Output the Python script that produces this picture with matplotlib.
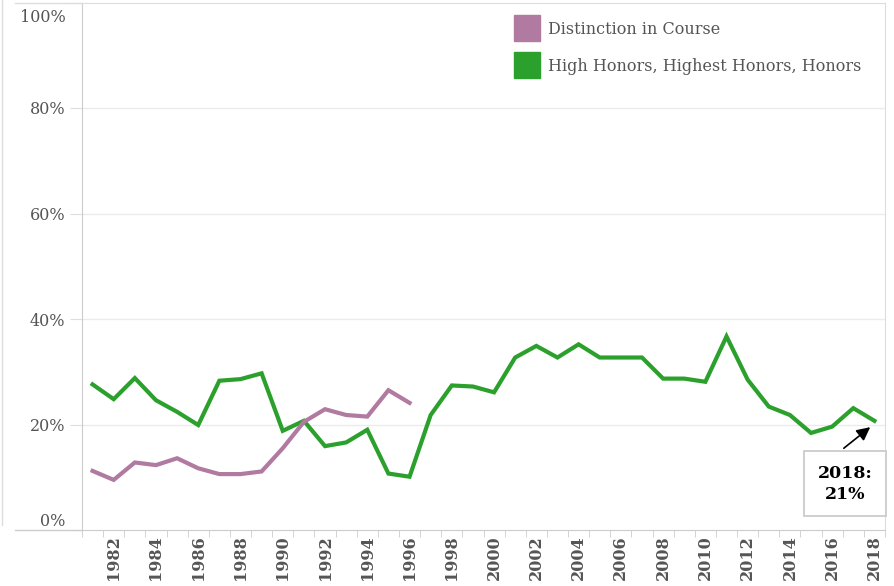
import matplotlib
matplotlib.use('Agg')
import matplotlib.pyplot as plt
import matplotlib.transforms as mtransforms
from matplotlib.lines import Line2D
import numpy as np

# Data (share of graduates, 0-1)
years_distinction = list(range(1981, 1997))
distinction = [0.112, 0.095, 0.128, 0.123, 0.136, 0.117, 0.106, 0.106,
               0.111, 0.155, 0.205, 0.229, 0.218, 0.215, 0.265, 0.241]

years_honors = list(range(1981, 2019))
honors = [0.276, 0.248, 0.288, 0.246, 0.224, 0.199, 0.283, 0.286, 0.297,
          0.188, 0.207, 0.159, 0.166, 0.190, 0.107, 0.101, 0.218, 0.274,
          0.272, 0.261, 0.327, 0.349, 0.327, 0.352, 0.327, 0.327, 0.327,
          0.287, 0.287, 0.281, 0.367, 0.285, 0.234, 0.218, 0.184, 0.196,
          0.231, 0.207]

series_labels = ['Distinction in Course', 'High Honors, Highest Honors, Honors']
colors = ['#b07aa1', '#2ca02c']

y_ticks = [0, 0.2, 0.4, 0.6, 0.8, 1.0]
y_tick_labels = ['0%', '20%', '40%', '60%', '80%', '100%']
x_label_years = list(range(1982, 2019, 2))

plt.rcParams['font.family'] = ['DejaVu Serif']

W, H = 895, 586
fig = plt.figure(figsize=(W / 100, H / 100), dpi=100)
ax = fig.add_axes([82 / W, 56 / H, (885 - 82) / W, (583.5 - 56) / H])

ax.plot(years_honors, honors, color=colors[1], lw=3.0, solid_joinstyle='miter', zorder=3)
ax.plot(years_distinction, distinction, color=colors[0], lw=3.0, solid_joinstyle='miter', zorder=3)

ax.set_xlim(1980.5, 2018.5)
ax.set_ylim(0, 1.0)

# y axis
ax.set_yticks(y_ticks)
ax.set_yticklabels(y_tick_labels, fontsize=11.5, color='#555555')
ax.tick_params(axis='y', length=9, color='#dddddd', pad=3)
labs = ax.get_yticklabels()
labs[0].set_va('bottom')
labs[-1].set_va('top')
labs[-1].set_transform(labs[-1].get_transform() +
                       mtransforms.ScaledTranslation(0, -5 / 72, fig.dpi_scale_trans))
for yv in y_ticks[1:-1]:
    ax.axhline(yv, color='#ebebeb', lw=1, zorder=1)

# x axis: labels on even years, small ticks between year slots
ax.set_xticks(x_label_years)
ax.set_xticklabels([str(y) for y in x_label_years], rotation=90, fontsize=11.5,
                   fontweight='bold', color='#555555')
ax.tick_params(axis='x', length=0, pad=4)
ax.set_xticks(np.arange(1980.5, 2018.6, 1), minor=True)
ax.tick_params(axis='x', which='minor', length=5, color='#cccccc')

for side in ['top', 'right']:
    ax.spines[side].set_color('#dddddd')
ax.spines['left'].set_color('#cccccc')
ax.spines['bottom'].set_color('#cccccc')

# outer frame lines of the dashboard
fig.add_artist(Line2D([2 / W, 2 / W], [1, 1 - 525 / H], color='#dddddd', lw=1))
fig.add_artist(Line2D([15 / W, 82 / W], [56 / H, 56 / H], color='#cccccc', lw=1))
fig.add_artist(Line2D([15 / W, 82 / W], [1 - 3 / H, 1 - 3 / H], color='#dddddd', lw=1))

# legend
handles = [Line2D([], [], marker='s', ls='', markersize=19, color=c) for c in colors]
leg = ax.legend(handles, series_labels, loc='upper right', frameon=False,
                fontsize=11.5, handletextpad=0.35, labelspacing=1.25,
                bbox_to_anchor=(0.985, 0.987), borderaxespad=0.3)
for t in leg.get_texts():
    t.set_color('#555555')

# annotation for last value
ax.text(2016.6, 0.088, '2018:\n21%', ha='center', va='center', fontsize=12.5,
        fontweight='bold', linespacing=1.3, zorder=5, clip_on=False,
        bbox=dict(boxstyle='square,pad=0.8', fc='white', ec='#cccccc', lw=1.3))
ax.annotate('', xy=(2017.8, 0.195), xytext=(2016.55, 0.155),
            arrowprops=dict(arrowstyle='-|>', color='black', lw=1.2, mutation_scale=20,
                            shrinkA=0, shrinkB=0),
            zorder=5)

fig.savefig('out.png', dpi=100)
